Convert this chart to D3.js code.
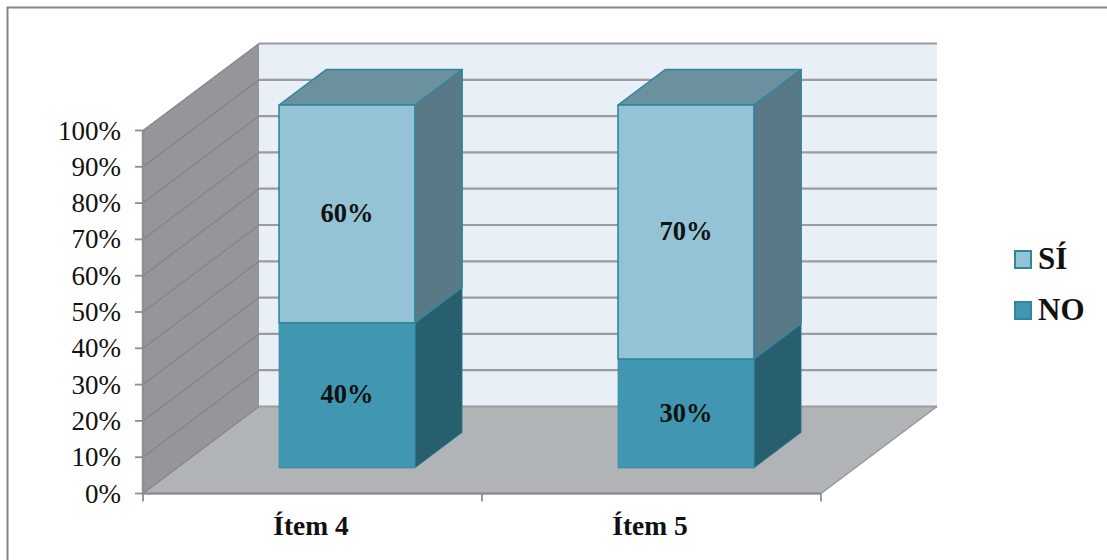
<!DOCTYPE html>
<html>
<head>
<meta charset="utf-8">
<script src="https://cdn.jsdelivr.net/npm/d3@7/dist/d3.min.js"></script>
<style>
html,body{margin:0;padding:0;background:#fff}
svg{display:block}
text{font-family:"Liberation Serif",serif;fill:#111}
</style>
</head>
<body>
<div id="chart"></div>
<script>
const categories = ["Ítem 4", "Ítem 5"];
const seriesNames = ["NO", "SÍ"];
const noValues = [40, 30];
const siValues = [60, 70];
const yTicks = [0, 10, 20, 30, 40, 50, 60, 70, 80, 90, 100];

const W = 1107, H = 560;
const svg = d3.select("#chart").append("svg").attr("width", W).attr("height", H);

// Oblique projection: x and y span the front plane, z runs from front (0) to back wall (1)
const x = d3.scaleBand().domain(categories).range([143, 821]);
const y = d3.scaleLinear().domain([0, 100]).range([493.5, 130.5]);
const zDx = d3.scaleLinear().domain([0, 1]).range([0, 116]);
const zDy = d3.scaleLinear().domain([0, 1]).range([0, -87]);
const pt = (px, v, z) => [px + zDx(z), y(v) + zDy(z)];
const poly = pts => d3.line()(pts) + "Z";

const colors = {
  NO: {front: "#4197b2", side: "#275f6f", top: "#275f6f", stroke: "#3a8aa3"},
  "SÍ": {front: "#93c3d5", side: "#587985", top: "#6b919f", stroke: "#31859c"}
};

// Outer frame
svg.append("rect").attr("x", 7.5).attr("y", 7.5).attr("width", W + 20).attr("height", H + 20)
  .attr("fill", "#fff").attr("stroke", "#868686").attr("stroke-width", 2);

const [x0, x1] = x.range();

// Back wall
svg.append("path").attr("d", poly([pt(x0, 0, 1), pt(x1, 0, 1), pt(x1, 100, 1), pt(x0, 100, 1)]))
  .attr("fill", "#e8eff7");
// Side wall
svg.append("path").attr("d", poly([pt(x0, 0, 0), pt(x0, 0, 1), pt(x0, 100, 1), pt(x0, 100, 0)]))
  .attr("fill", "#949699");
// Floor
svg.append("path").attr("d", poly([pt(x0, 0, 0), pt(x1, 0, 0), pt(x1, 0, 1), pt(x0, 0, 1)]))
  .attr("fill", "#b1b4b7");

// Gridlines: thin across the side wall, heavier across the back wall
svg.append("g").selectAll("line").data(yTicks).join("line")
  .attr("x1", pt(x0, 0, 0)[0]).attr("x2", pt(x0, 0, 1)[0])
  .attr("y1", t => pt(x0, t, 0)[1]).attr("y2", t => pt(x0, t, 1)[1])
  .attr("stroke", "#828487").attr("stroke-width", 1.2);
svg.append("g").selectAll("line").data(yTicks).join("line")
  .attr("x1", pt(x0, 0, 1)[0]).attr("x2", pt(x1, 0, 1)[0])
  .attr("y1", t => pt(x0, t, 1)[1]).attr("y2", t => pt(x0, t, 1)[1])
  .attr("stroke", "#9a9c9f").attr("stroke-width", 2.2);

// Right-hand floor edge
svg.append("path").attr("d", d3.line()([pt(x1, 0, 0), pt(x1, 0, 1)]))
  .attr("fill", "none").attr("stroke", "#929497").attr("stroke-width", 1.4);

// Axes on the front plane
svg.append("path").attr("d", d3.line()([[x0, y(100)], [x0, y(0)], [x1, y(0)]]))
  .attr("fill", "none").attr("stroke", "#8c8e91").attr("stroke-width", 2.4);
svg.append("g").selectAll("line").data(yTicks).join("line")
  .attr("x1", x0 - 8).attr("x2", x0).attr("y1", d => y(d)).attr("y2", d => y(d))
  .attr("stroke", "#8c8e91").attr("stroke-width", 1.8);
svg.append("g").selectAll("line").data([x0, x0 + x.bandwidth(), x1]).join("line")
  .attr("x1", d => d).attr("x2", d => d).attr("y1", y(0)).attr("y2", y(0) + 8)
  .attr("stroke", "#8c8e91").attr("stroke-width", 1.8);

svg.append("g").selectAll("text").data(yTicks).join("text")
  .attr("x", 121).attr("y", d => y(d) + 9).attr("text-anchor", "end")
  .attr("font-size", 27).text(d => d + "%");

svg.append("g").selectAll("text").data(categories).join("text")
  .attr("x", d => x(d) + x.bandwidth() / 2 - 1.5).attr("y", 535).attr("text-anchor", "middle")
  .attr("font-size", 27.5).attr("font-weight", "bold").text(d => d);

// Stacked 3D columns
const barInset = 0.301, barW = x.bandwidth() * 0.401;
const zFront = 0.293, zBack = 0.70;
const rows = categories.map((c, i) => ({c, NO: noValues[i], "SÍ": siValues[i]}));
const stacked = d3.stack().keys(seriesNames)(rows);
const bars = svg.append("g");

stacked.forEach(layer => {
  const col = colors[layer.key];
  layer.forEach(d => {
    const l = x(d.data.c) + x.bandwidth() * barInset, r = l + barW;
    const [lo, hi] = d;
    const g = bars.append("g").attr("stroke-linejoin", "round");
    g.append("path")
      .attr("d", poly([pt(r, lo, zFront), pt(r, lo, zBack), pt(r, hi, zBack), pt(r, hi, zFront)]))
      .attr("fill", col.side).attr("stroke", col.stroke).attr("stroke-width", layer.key === "NO" ? 0.6 : 1.5);
    if (hi === 100) {
      g.append("path")
        .attr("d", poly([pt(l, hi, zFront), pt(r, hi, zFront), pt(r, hi, zBack), pt(l, hi, zBack)]))
        .attr("fill", col.top).attr("stroke", col.stroke).attr("stroke-width", 1.5);
    }
    g.append("path")
      .attr("d", poly([pt(l, lo, zFront), pt(r, lo, zFront), pt(r, hi, zFront), pt(l, hi, zFront)]))
      .attr("fill", col.front).attr("stroke", col.stroke).attr("stroke-width", layer.key === "NO" ? 0.8 : 1.6);
    const c = pt((l + r) / 2, (lo + hi) / 2, zFront);
    bars.append("text").attr("x", c[0]).attr("y", c[1] + 8).attr("text-anchor", "middle")
      .attr("font-size", 26.5).attr("font-weight", "bold").text((hi - lo) + "%");
  });
});

// Legend
const legendRows = [{name: "SÍ", cy: 259}, {name: "NO", cy: 310}];
const legend = svg.append("g").selectAll("g").data(legendRows).join("g");
legend.append("rect").attr("x", 1015).attr("y", d => d.cy - 8).attr("width", 16).attr("height", 17)
  .attr("fill", d => colors[d.name].front).attr("stroke", "#31859c").attr("stroke-width", 2);
legend.append("text").attr("x", 1038).attr("y", d => d.cy + 10).attr("font-size", 31)
  .attr("font-weight", "bold").text(d => d.name);
</script>
</body>
</html>
